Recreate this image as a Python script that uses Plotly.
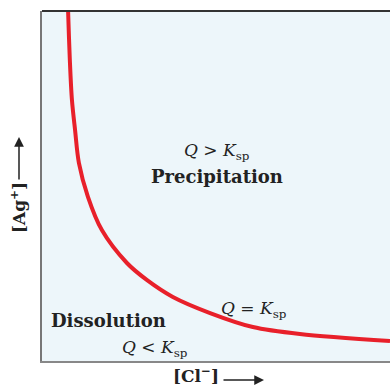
import plotly.graph_objects as go

# Curve [Ag+][Cl-] = Ksp (arbitrary units, axes 0..10)
cl_conc = [0.74, 0.75, 0.80, 0.86, 0.95, 1.06, 1.32, 1.72, 2.44, 3.02, 3.76, 4.83, 6.06, 7.41, 10.0]
ag_conc = [10.4, 10.0, 8.6, 7.46, 6.6, 5.66, 4.69, 3.74, 2.8, 2.31, 1.83, 1.37, 0.97, 0.77, 0.57]

x_title = "<b>[Cl<sup>−</sup>]</b>"
y_title = "<b>[Ag<sup>+</sup>]</b>"
labels = [
    ("<i>Q</i> > <i>K</i><sub>sp</sub>", 5.04, 6.0, 17),
    ("<b>Precipitation</b>", 5.03, 5.26, 18),
    ("<i>Q</i> = <i>K</i><sub>sp</sub>", 6.09, 1.46, 17),
    ("<b>Dissolution</b>", 1.9, 1.17, 18),
    ("<i>Q</i> < <i>K</i><sub>sp</sub>", 3.25, 0.37, 17),
]

SERIF = "DejaVu Serif, Liberation Serif, serif"

fig = go.Figure()
fig.add_trace(go.Scatter(
    x=cl_conc, y=ag_conc, mode="lines",
    line=dict(color="#e8202a", width=4, shape="spline", smoothing=0.9),
    hoverinfo="skip", showlegend=False,
))

for txt, x, y, fs in labels:
    fig.add_annotation(x=x, y=y, xref="x", yref="y", text=txt, showarrow=False,
                       xanchor="center", yanchor="middle",
                       font=dict(family=SERIF, size=fs, color="#222222"))

# axis titles with arrows
fig.add_annotation(x=(196 - 42) / 348, y=(361 - 375) / 350, xref="paper", yref="paper",
                   xanchor="center", yanchor="middle",
                   text=x_title, showarrow=False, font=dict(family=SERIF, size=17, color="#222222"))
fig.add_annotation(x=(264 - 42) / 348, y=(361 - 380) / 350, ax=-42, ay=0,
                   xref="paper", yref="paper",
                   text="", showarrow=True, arrowhead=2, arrowsize=1.3, arrowwidth=1.5, arrowcolor="#222222")
fig.add_annotation(x=(18 - 42) / 348, y=(361 - 208) / 350, xref="paper", yref="paper",
                   xanchor="center", yanchor="middle",
                   text=y_title, textangle=-90, showarrow=False, font=dict(family=SERIF, size=17, color="#222222"))
fig.add_annotation(x=(19 - 42) / 348, y=(361 - 137) / 350, ax=0, ay=44,
                   xref="paper", yref="paper",
                   text="", showarrow=True, arrowhead=2, arrowsize=1.3, arrowwidth=1.5, arrowcolor="#222222")

# top border
fig.add_shape(type="line", xref="paper", yref="paper", x0=0, x1=1, y0=1, y1=1,
              line=dict(color="#333333", width=2))

fig.update_layout(
    width=390, height=387,
    margin=dict(l=42, r=0, t=11, b=26),
    paper_bgcolor="white",
    plot_bgcolor="#edf6fa",
    xaxis=dict(range=[0, 10], showgrid=False, zeroline=False, showticklabels=False, ticks="",
               showline=True, linecolor="#888888", linewidth=2, fixedrange=True),
    yaxis=dict(range=[0, 10], showgrid=False, zeroline=False, showticklabels=False, ticks="",
               showline=True, linecolor="#777777", linewidth=2, fixedrange=True),
)

fig.write_html("out.html", config={"displayModeBar": False},
               post_script="document.body.style.margin='0';document.body.style.overflow='hidden';")
